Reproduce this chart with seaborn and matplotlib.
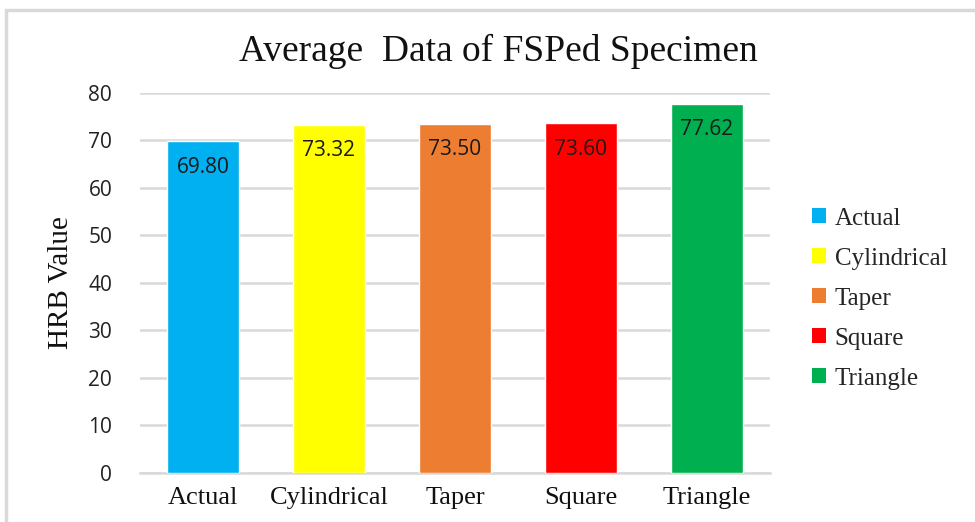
import matplotlib
matplotlib.use("Agg")
import matplotlib.pyplot as plt
import seaborn as sns
from matplotlib.patches import Patch, Rectangle

# Datos del grafico
categorias = ["Actual", "Cylindrical", "Taper", "Square", "Triangle"]
valores = [69.80, 73.32, 73.50, 73.60, 77.62]
colores = ["#00B0F0", "#FFFF00", "#ED7D31", "#FF0000", "#00B050"]
y_ticks = [0, 10, 20, 30, 40, 50, 60, 70, 80]

SERIF = "Liberation Serif"
SANS = "Open Sans"

sns.set_theme(style="white")
plt.rcParams["font.family"] = [SERIF, "DejaVu Serif"]

fig = plt.figure(figsize=(9.75, 5.22), dpi=100)
ax = fig.add_axes([0.1436, 0.0939, 0.646, 0.728])

sns.barplot(x=categorias, y=valores, hue=categorias, palette=colores,
            width=0.57, saturation=1, legend=False, ax=ax, zorder=3)

# Etiquetas de valor dentro de la barra
for bar, val in zip(ax.patches, valores):
    ax.text(bar.get_x() + bar.get_width() / 2, val - 3.2, f"{val:.2f}",
            ha="center", va="top", fontsize=15, family=SANS, color="#1a1a1a")

ax.set_ylim(0, 80)
ax.set_yticks(y_ticks)
ax.set_yticklabels([str(t) for t in y_ticks], family=SANS, fontsize=15, color="#222222")
ax.set_xticks(range(len(categorias)))
ax.set_xticklabels(categorias, fontsize=19, color="#111111")
ax.tick_params(axis="x", pad=10, length=0)
ax.tick_params(axis="y", pad=20, length=0)
ax.set_xlabel("")
ax.set_ylabel("HRB Value", fontsize=21, labelpad=10, color="#111111")

ax.yaxis.grid(True, color="#d9d9d9", linewidth=1.8, zorder=0)
ax.set_axisbelow(True)
for s in ["top", "right", "left"]:
    ax.spines[s].set_visible(False)
ax.spines["bottom"].set_color("#d9d9d9")
ax.spines["bottom"].set_linewidth(1.8)

fig.suptitle("Average  Data of FSPed Specimen", x=0.511, y=0.935,
             fontsize=27, color="#111111")

handles = [Patch(facecolor=c, edgecolor="none") for c in colores]
fig.legend(handles, categorias, loc="center left", bbox_to_anchor=(0.81, 0.428),
           frameon=False, fontsize=18, handlelength=0.55, handleheight=0.55,
           handletextpad=0.35, labelspacing=0.72)

# Marco del grafico
fig.patches.append(Rectangle((6 / 975, -0.02), 1.0, 1 - 10 / 522 + 0.02,
                             transform=fig.transFigure, fill=False,
                             edgecolor="#d9d9d9", linewidth=2.5))

fig.savefig("out.png", dpi=100)
